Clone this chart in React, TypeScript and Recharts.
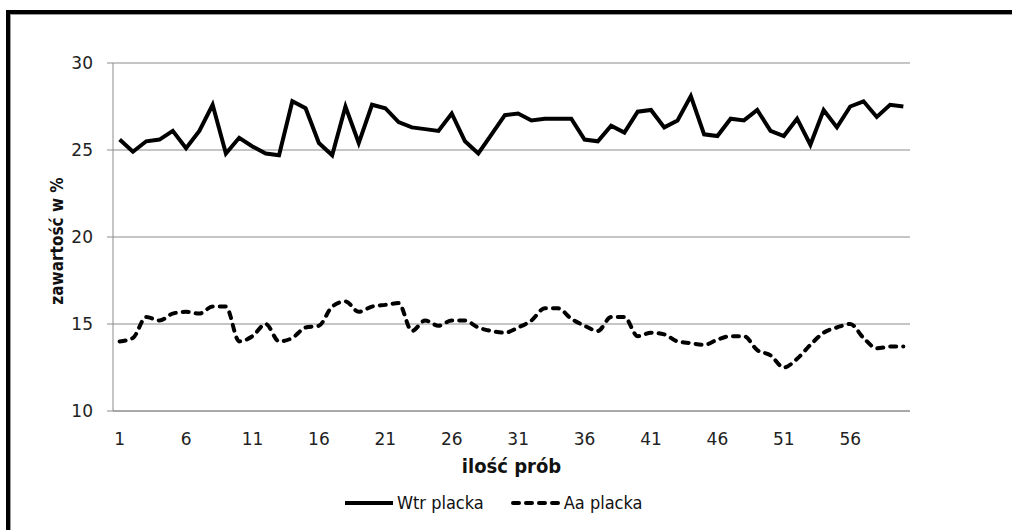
import { CartesianGrid, Legend, Line, LineChart, XAxis, YAxis } from "recharts";

const samples = Array.from({ length: 60 }, (_, i) => i + 1);

const wtrPlacka = [
  25.6, 24.9, 25.5, 25.6, 26.1, 25.1, 26.1, 27.6, 24.8, 25.7,
  25.2, 24.8, 24.7, 27.8, 27.4, 25.4, 24.7, 27.5, 25.4, 27.6,
  27.4, 26.6, 26.3, 26.2, 26.1, 27.1, 25.5, 24.8, 25.9, 27.0,
  27.1, 26.7, 26.8, 26.8, 26.8, 25.6, 25.5, 26.4, 26.0, 27.2,
  27.3, 26.3, 26.7, 28.1, 25.9, 25.8, 26.8, 26.7, 27.3, 26.1,
  25.8, 26.8, 25.3, 27.3, 26.3, 27.5, 27.8, 26.9, 27.6, 27.5,
];

const aaPlacka = [
  14.0, 14.2, 15.4, 15.2, 15.6, 15.7, 15.6, 16.0, 16.0, 14.0,
  14.3, 15.0, 14.0, 14.2, 14.8, 14.9, 16.0, 16.3, 15.7, 16.0,
  16.1, 16.2, 14.6, 15.2, 14.9, 15.2, 15.2, 14.8, 14.6, 14.5,
  14.8, 15.2, 15.9, 15.9, 15.3, 14.9, 14.6, 15.4, 15.4, 14.3,
  14.5, 14.4, 14.0, 13.9, 13.8, 14.1, 14.3, 14.3, 13.5, 13.2,
  12.5, 13.0, 13.8, 14.5, 14.8, 15.0, 14.2, 13.6, 13.7, 13.7,
];

const xTickLabels = [1, 6, 11, 16, 21, 26, 31, 36, 41, 46, 51, 56];
const yTicks = [10, 15, 20, 25, 30];
// tick marks sit between categories, like Excel
const categoryEdges = Array.from({ length: 61 }, (_, i) => i + 0.5);

const data = samples.map((n, i) => ({
  n,
  wtr: wtrPlacka[i],
  aa: aaPlacka[i],
}));

const GRAY = "#8c8c8c";
const tickFont = "'DejaVu Sans', sans-serif";
const titleFont = "'Liberation Sans Narrow', 'DejaVu Sans Condensed', 'Liberation Sans', sans-serif";

function LegendBox() {
  return (
    <div
      style={{
        display: "flex",
        alignItems: "center",
        fontFamily: titleFont,
        fontSize: 18,
        color: "#111",
      }}
    >
      <svg width={52} height={8}>
        <line x1={2} y1={4} x2={50} y2={4} stroke="#000" strokeWidth={4} />
      </svg>
      <span style={{ marginLeft: 2 }}>Wtr placka</span>
      <svg width={52} height={8} style={{ marginLeft: 26 }}>
        <line
          x1={3}
          y1={4}
          x2={50}
          y2={4}
          stroke="#000"
          strokeWidth={4}
          strokeDasharray="6 7"
          strokeLinecap="round"
        />
      </svg>
      <span style={{ marginLeft: 2 }}>Aa placka</span>
    </div>
  );
}

function YTitle(props: any) {
  const { viewBox } = props;
  const cx = viewBox.x + 4;
  const cy = viewBox.y + viewBox.height / 2 + 4;
  return (
    <text
      x={cx}
      y={cy}
      transform={`rotate(-90, ${cx}, ${cy})`}
      textAnchor="middle"
      dominantBaseline="central"
      fill="#111"
      fontSize={17}
      fontWeight="bold"
      fontFamily={titleFont}
    >
      zawartość w %
    </text>
  );
}

export default function App() {
  return (
    <div
      style={{
        position: "absolute",
        left: 0,
        top: 0,
        width: 1012,
        height: 530,
        overflow: "hidden",
        background: "#fff",
      }}
    >
      <div
        style={{
          position: "absolute",
          left: 6,
          top: 10,
          width: 1100,
          height: 600,
          borderTop: "4px solid #000",
          borderLeft: "4px solid #000",
          boxShadow: "inset 1px 1px 0 #9a9a9a",
        }}
      />
      <LineChart
        width={1012}
        height={530}
        data={data}
        margin={{ top: 63, right: 102, bottom: 71, left: 53 }}
        style={{ position: "absolute", left: 0, top: 0 }}
      >
        <CartesianGrid vertical={false} stroke={GRAY} strokeWidth={1} />
        <XAxis
          dataKey="n"
          type="number"
          domain={[0.5, 60.5]}
          ticks={categoryEdges}
          interval={0}
          tick={false}
          tickSize={7}
          height={8}
          stroke={GRAY}
          tickLine={{ stroke: GRAY }}
          axisLine={{ stroke: GRAY }}
        />
        <XAxis
          xAxisId="labels"
          dataKey="n"
          type="number"
          domain={[0.5, 60.5]}
          ticks={xTickLabels}
          interval={0}
          axisLine={false}
          tickLine={false}
          tickSize={6}
          tickMargin={8}
          height={40}
          tick={{ fill: "#222", fontSize: 17, fontFamily: tickFont }}
          label={{
            value: "ilość prób",
            position: "bottom",
            offset: 0,
            fill: "#111",
            fontSize: 20,
            fontWeight: "bold",
            fontFamily: titleFont,
          }}
        />
        <YAxis
          width={60}
          domain={[10, 30]}
          ticks={yTicks}
          interval={0}
          tickSize={6}
          tickMargin={14}
          stroke={GRAY}
          tick={{ fill: "#222", fontSize: 17, fontFamily: tickFont }}
          label={{ content: YTitle }}
        />
        <Legend
          layout="horizontal"
          verticalAlign="middle"
          align="center"
          wrapperStyle={{ left: 343, top: 492, width: 400 }}
          content={() => <LegendBox />}
        />
        <Line
          dataKey="wtr"
          name="Wtr placka"
          type="linear"
          stroke="#000"
          strokeWidth={4}
          dot={false}
          isAnimationActive={false}
        />
        <Line
          dataKey="aa"
          name="Aa placka"
          type="monotone"
          stroke="#000"
          strokeWidth={4}
          strokeDasharray="6 7"
          strokeLinecap="round"
          dot={false}
          isAnimationActive={false}
        />
      </LineChart>
    </div>
  );
}
